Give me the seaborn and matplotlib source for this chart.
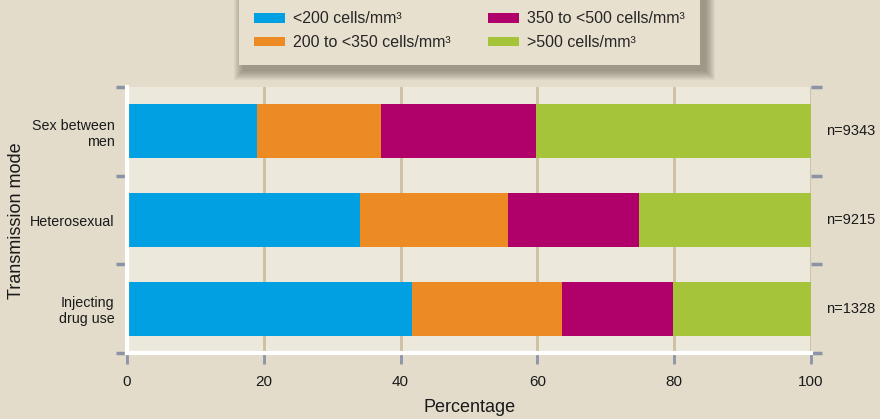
import matplotlib
matplotlib.use("Agg")
import matplotlib.pyplot as plt
import matplotlib.patches as mpatches
import matplotlib.transforms as mtransforms
import numpy as np
import pandas as pd
import seaborn as sns

# ---- data ----
categories = ["Sex between\nmen", "Heterosexual", "Injecting\ndrug use"]
series_names = ["<200 cells/mm³", "200 to <350 cells/mm³", "350 to <500 cells/mm³", ">500 cells/mm³"]
lt200 = [19.0, 34.1, 41.7]
s200_350 = [18.2, 21.6, 21.9]
s350_500 = [22.6, 19.2, 16.2]
gt500 = [40.2, 25.1, 20.2]
n_labels = ["n=9343", "n=9215", "n=1328"]
x_ticks = [0, 20, 40, 60, 80, 100]

colors = ["#00a0e3", "#ec8a24", "#b0006a", "#a6c43a"]
fig_bg = "#e3dccb"
ax_bg = "#ece8dc"
grid_c = "#cdbf9f"
tick_c = "#8c93a6"
txt_c = "#1a1a1a"

sns.set_theme(style="white")
plt.rcParams["font.family"] = ["Liberation Sans", "DejaVu Sans"]

W, H = 880, 419
fig = plt.figure(figsize=(8.8, 4.19), dpi=100, facecolor=fig_bg)
ax = fig.add_axes([127 / W, 1 - 353 / H, (811 - 127) / W, (353 - 87) / H])
ax.set_facecolor(ax_bg)

series = [lt200, s200_350, s350_500, gt500]
cum = np.cumsum(np.array(series), axis=0)
df = pd.DataFrame({"cat": categories})
for i, name in enumerate(series_names):
    df[name] = cum[i]

# draw from back (largest cumulative) to front
for i in range(len(series_names) - 1, -1, -1):
    sns.barplot(data=df, x=series_names[i], y="cat", orient="h", color=colors[i],
                width=0.61, saturation=1, ax=ax, zorder=3, edgecolor="none", linewidth=0)

ax.set_xlim(0, 100)
ax.set_ylim(2.5, -0.5)
ax.set_xticks(x_ticks)
ax.set_xticklabels([str(v) for v in x_ticks])
ax.set_yticks(range(len(categories)))
ax.set_yticklabels(categories)
ax.set_yticks([-0.5, 0.5, 1.5, 2.5], minor=True)

# grid
for v in x_ticks[1:]:
    ax.axvline(v, color=grid_c, lw=2, zorder=1)

for s in ["top", "right"]:
    ax.spines[s].set_visible(False)
for s in ["left", "bottom"]:
    ax.spines[s].set_color("white")
    ax.spines[s].set_linewidth(3)
    ax.spines[s].set_zorder(5)

ax.tick_params(axis="y", which="major", length=0, pad=9, labelsize=10.3, labelcolor=txt_c)
ax.tick_params(axis="y", which="minor", length=8, width=2.5, color=tick_c, left=True, right=True)
ax.tick_params(axis="x", which="major", length=8, width=2, color=tick_c, bottom=True,
               labelsize=11, pad=8, labelcolor=txt_c)

ax.set_xlabel("Percentage", fontsize=13, color=txt_c)
ax.xaxis.set_label_coords(0.5015, -(399 - 353) / 266)
ax.set_ylabel("Transmission mode", fontsize=13, color=txt_c)
ax.yaxis.set_label_coords(-(127 - 25) / 684, 0.496)

trans = mtransforms.blended_transform_factory(ax.transAxes, ax.transData)
for i, lab in enumerate(n_labels):
    ax.text(1.022, i, lab, transform=trans, ha="left", va="center", fontsize=10.5, color=txt_c)

handles = [mpatches.Patch(facecolor=c, edgecolor="none") for c in colors]
leg = fig.legend(handles, series_names, loc="upper center", bbox_to_anchor=(0.5335, 1.009),
                 ncol=2, frameon=True, fancybox=False, shadow=False,
                 handlelength=1.95, handleheight=0.56, columnspacing=2.3, handletextpad=0.5,
                 borderpad=0.95, labelspacing=0.55, borderaxespad=0,
                 prop={"family": ["Liberation Sans", "DejaVu Sans"], "size": 11.5})
leg.get_frame().set_facecolor("#e8e0cf")
leg.get_frame().set_edgecolor("none")
leg.get_frame().set_alpha(1)
leg.set_zorder(10)

# soft blurred shadow behind legend
fig.canvas.draw()
bb = leg.get_window_extent()
ox, oy = 5, -5
for k in range(10, 0, -1):
    rect = mpatches.Rectangle((bb.x0 + ox - k, bb.y0 + oy - k), bb.width + 2 * k, bb.height + 2 * k,
                              transform=None, facecolor="#4e473a", edgecolor="none",
                              alpha=0.055, zorder=9)
    fig.patches.append(rect)

fig.savefig("out.png", dpi=100, facecolor=fig_bg)
